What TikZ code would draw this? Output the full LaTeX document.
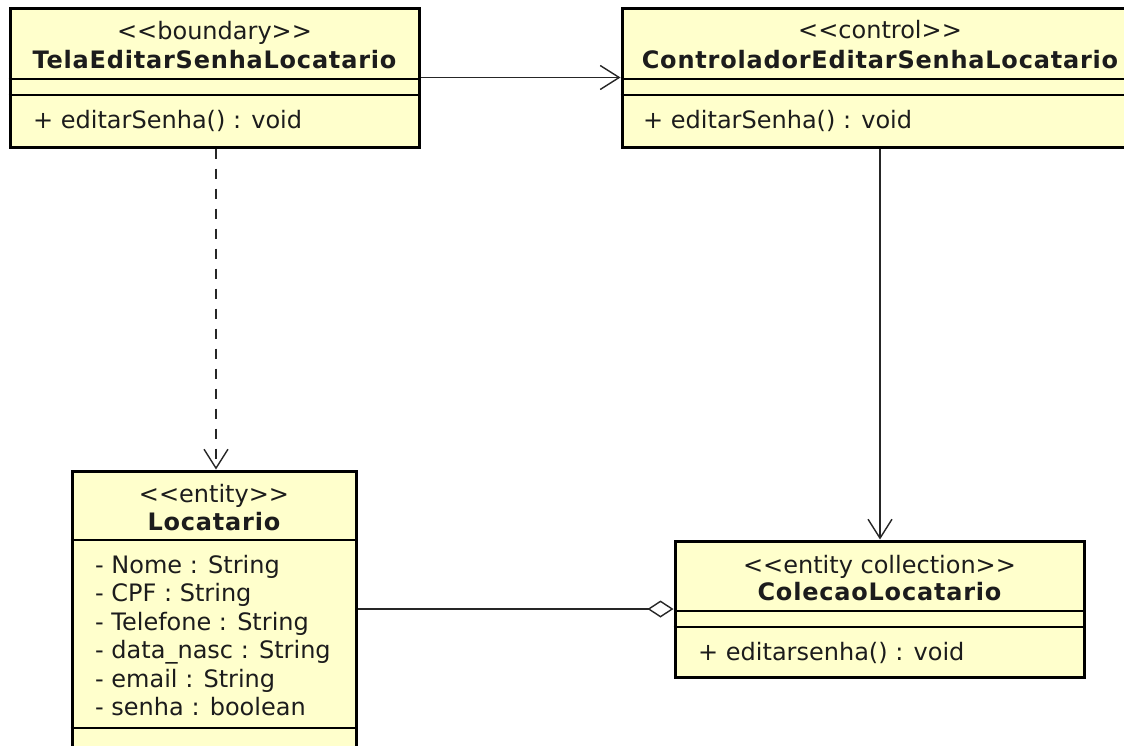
\documentclass[tikz,border=0pt]{standalone}
\usepackage{fontspec}
\setmainfont{DejaVu Sans}[Ligatures=TeXOff]
\newfontfamily\boldfam{DejaVu Sans Bold}[LetterSpace=3.3,Ligatures=TeXOff]
\usetikzlibrary{arrows.meta}
\definecolor{umlfill}{RGB}{255,255,204}
\definecolor{umltext}{RGB}{28,28,28}
\begin{document}
\begin{tikzpicture}[x=1pt,y=-1pt,
  box/.style={draw=black, fill=umlfill, line width=3pt, inner sep=0pt},
  div/.style={line width=1.3pt, draw=black},
  stereo/.style={anchor=base, inner sep=0pt, font=\fontsize{24}{28}\selectfont, text=umltext},
  cname/.style={anchor=base, inner sep=0pt, font=\fontsize{24}{28}\boldfam, text=umltext},
  member/.style={anchor=base west, inner sep=0pt, font=\fontsize{24}{28}\selectfont, text=umltext},
  conn/.style={line width=1.4pt, draw=black!85},
  openhead/.style={-{Straight Barb[length=19pt,width=24pt,line width=1.4pt]}},
  dashline/.style={dash pattern=on 10pt off 10pt},
  aggr/.style={{Diamond[open,length=26pt,width=17pt,line width=1.4pt]}-}
]
\useasboundingbox (0,0) rectangle (1124,745);
\clip (0,0) rectangle (1124,745);
\fill[white] (0,0) rectangle (1124,745);

% TelaEditarSenhaLocatario
\node[box, minimum width=409pt, minimum height=139pt] (tela) at (214.5,77.5) {};
\draw[div] (tela.west |- 0,79) -- (tela.east |- 0,79);
\draw[div] (tela.west |- 0,95) -- (tela.east |- 0,95);
\node[stereo] (telaS) at (214.5,39) {<<boundary>>};
\node[cname] (telaN) at (214.5,68) {TelaEditarSenhaLocatario};
\node[member] (telaM) at (33,128) {+ editarSenha() : void};

% ControladorEditarSenhaLocatario
\node[box, minimum width=516pt, minimum height=139pt] (ctrl) at (880,77.5) {};
\draw[div] (ctrl.west |- 0,79) -- (ctrl.east |- 0,79);
\draw[div] (ctrl.west |- 0,95) -- (ctrl.east |- 0,95);
\node[stereo] (ctrlS) at (880,38) {<<control>>};
\node[cname] (ctrlN) at (880,68) {ControladorEditarSenhaLocatario};
\node[member] (ctrlM) at (643,128) {+ editarSenha() : void};

% Locatario
\node[box, minimum width=284pt, minimum height=289pt] (loc) at (214,615.5) {};
\draw[div] (loc.west |- 0,540) -- (loc.east |- 0,540);
\draw[div] (loc.west |- 0,728) -- (loc.east |- 0,728);
\node[stereo] (locS) at (214,502) {<<entity>>};
\node[cname] (locN) at (214,530) {Locatario};
\node[member] (locA1) at (95,573) {- Nome : String};
\node[member] (locA2) at (95,601.5) {- CPF : String};
\node[member] (locA3) at (95,630) {- Telefone : String};
\node[member] (locA4) at (95,658.5) {- data\_nasc : String};
\node[member] (locA5) at (95,687) {- email : String};
\node[member] (locA6) at (95,715.5) {- senha : boolean};

% ColecaoLocatario
\node[box, minimum width=409pt, minimum height=136pt] (coll) at (879.5,609) {};
\draw[div] (coll.west |- 0,611) -- (coll.east |- 0,611);
\draw[div] (coll.west |- 0,627) -- (coll.east |- 0,627);
\node[stereo] (collS) at (879.5,573) {<<entity collection>>};
\node[cname] (collN) at (879.5,600) {ColecaoLocatario};
\node[member] (collM) at (698,660) {+ editarsenha() : void};

% connectors
\draw[conn, openhead] (tela.east) -- (ctrl.west);
\draw[conn, dashline, openhead] ([xshift=1.5pt]tela.south) -- ([xshift=1.5pt]tela.south |- loc.north);
\draw[conn, openhead] (ctrl.south) -- (ctrl.south |- coll.north);
\draw[conn, aggr] (coll.west) -- (coll.west -| loc.east);
\end{tikzpicture}
\end{document}
